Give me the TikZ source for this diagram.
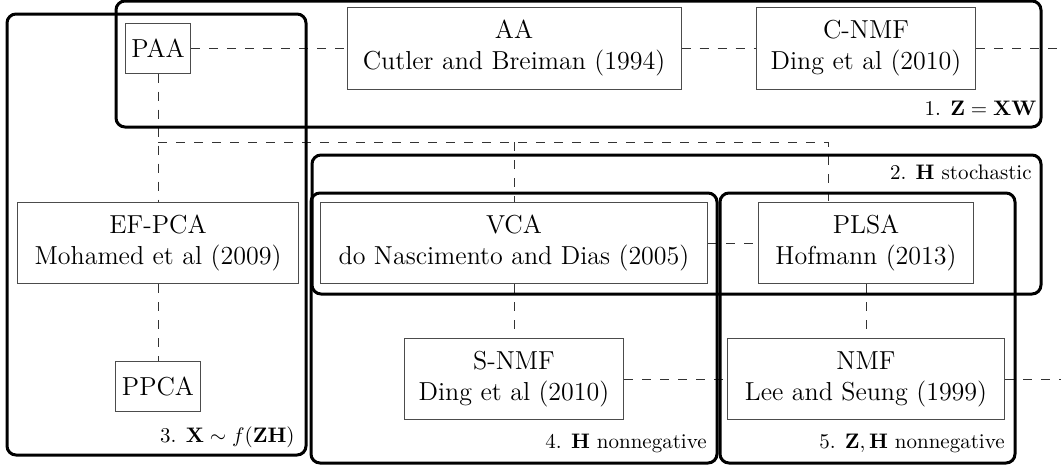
\documentclass[tikz,border=0pt]{standalone}
\usepackage{amsmath,amssymb}
\usepackage{fix-cm}
\usepackage{tikz}
\usetikzlibrary{positioning}

\tikzset{
  method/.style={rectangle, draw=black!70, line width=0.5pt, align=center, inner sep=3pt, font=\fontsize{13}{15.5}\selectfont},
  link/.style={draw=black!80, line width=0.5pt, dash pattern=on 4.5pt off 4.5pt},
  group/.style={draw=black, line width=1.5pt, rounded corners=4.5pt},
  grouplabel/.style={anchor=base east, inner sep=0pt, font=\fontsize{10.5}{12}\selectfont},
}

\begin{document}
\begin{tikzpicture}[x=0.5pt, y=-0.5pt]
    \useasboundingbox (0,0) rectangle (1061,467);

    % methods
    \node (paa) [method, minimum width=32.5pt, minimum height=25pt] at (158,48) {PAA};
    \node (aa) [method, minimum width=167pt, minimum height=41pt, right of=paa, node distance=178pt] {AA\\ Cutler and Breiman (1994)};
    \node (cnmf) [method, minimum width=109.5pt, minimum height=41pt, right of=aa, node distance=176pt] {C-NMF\\ Ding et al (2010)};
    \node (efpca) [method, minimum width=140.5pt, minimum height=40.5pt, below of=paa, node distance=97.5pt] {EF-PCA\\ Mohamed et al (2009)};
    \node (ppca) [method, minimum width=40.5pt, minimum height=25pt, below of=efpca, node distance=71.5pt] {PPCA};
    \node (vca) [method, minimum width=193.5pt, minimum height=40.5pt, below of=aa, node distance=97.5pt] {VCA\\ do Nascimento and Dias (2005)};
    \node (plsa) [method, minimum width=107.5pt, minimum height=40.5pt, below of=cnmf, node distance=97.5pt] {PLSA\\ Hofmann (2013)};
    \node (snmf) [method, minimum width=109.5pt, minimum height=40.5pt, below of=vca, node distance=68pt] {S-NMF\\ Ding et al (2010)};
    \node (nmf) [method, minimum width=138.5pt, minimum height=40.5pt, below of=plsa, node distance=68pt] {NMF\\ Lee and Seung (1999)};

    % helper points
    \coordinate (rimR) at (1061,0);
    \coordinate (splitrow) at (0,142);
    \coordinate (split) at (paa.south |- splitrow);
    \coordinate (plsain) at ([xshift=-19pt]plsa.north);

    % links
    \draw[link] (paa) -- (aa);
    \draw[link] (aa) -- (cnmf);
    \draw[link] (cnmf.east) -- (cnmf.east -| rimR);
    \draw[link] (paa) -- (efpca);
    \draw[link] (efpca) -- (ppca);
    \draw[link] (split) -| (plsain);
    \draw[link] (vca.north |- split) -- (vca.north);
    \draw[link] (vca) -- (plsa);
    \draw[link] (vca) -- (snmf);
    \draw[link] (plsa) -- (nmf);
    \draw[link] (snmf) -- (nmf);
    \draw[link] (nmf.east) -- (nmf.east -| rimR);

    % groups
    \draw[group] (116,1) rectangle (1041,127);
    \draw[group] (7,14) rectangle (306,455);
    \draw[group] (312,155) rectangle (1041,294);
    \draw[group] (311,193) rectangle (717,463);
    \draw[group] (720,193) rectangle (1015,463);

    \node (zxw) [grouplabel] at (1037,115) {1. $\mathbf{Z}=\mathbf{XW}$};
    \node (hstoch) [grouplabel] at (1032,179) {2. $\mathbf{H}$ stochastic};
    \node (xfzh) [grouplabel] at (295,442) {3. $\mathbf{X}\sim f(\mathbf{ZH})$};
    \node (hnn) [grouplabel] at (707,448) {4. $\mathbf{H}$ nonnegative};
    \node (zhnn) [grouplabel] at (1005,448) {5. $\mathbf{Z},\mathbf{H}$ nonnegative};
\end{tikzpicture}
\end{document}
